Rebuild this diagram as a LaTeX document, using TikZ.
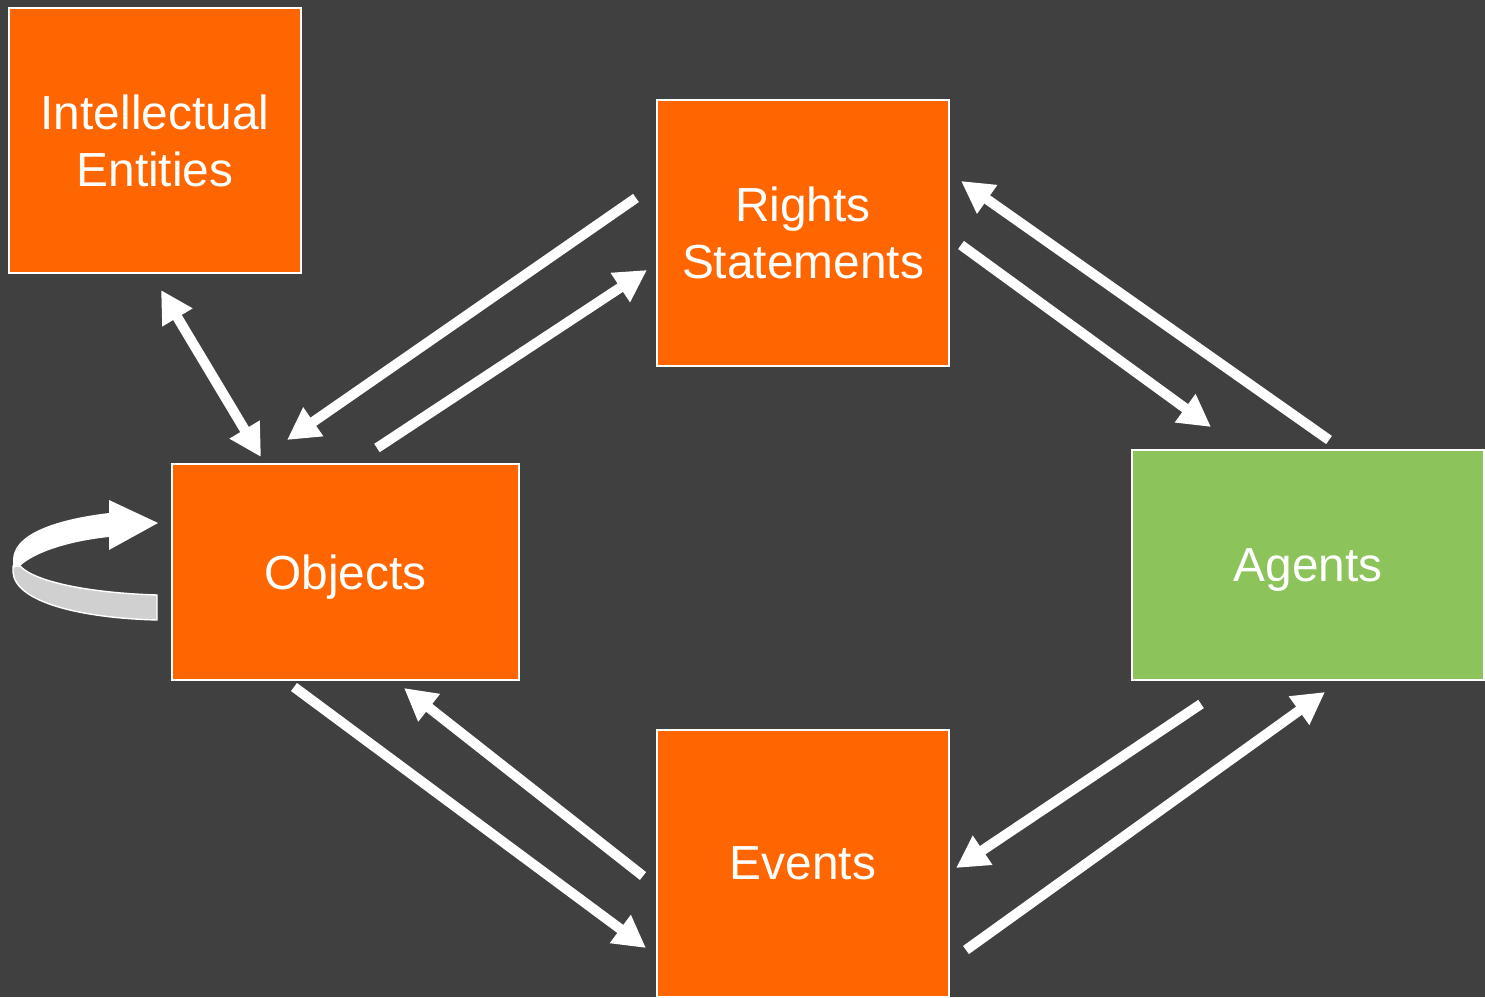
\documentclass[tikz,border=0pt]{standalone}
\usepackage{fontspec}
\setmainfont{Liberation Sans}
\usetikzlibrary{arrows.meta}

\definecolor{slate}{HTML}{404040}
\definecolor{pumpkin}{HTML}{FF6600}
\definecolor{leaf}{HTML}{8CC35A}
\definecolor{ribbon}{HTML}{D0D0D0}

\tikzset{
	entity/.style={draw=white, line width=0.6pt, fill=pumpkin, text=white,
		inner sep=0pt, align=center, text depth=0pt,
		font=\fontsize{13.6}{16.2}\selectfont},
	link/.style={draw=white, line width=2.85pt,
		-{Triangle[length=0.32cm, width=0.33cm]}},
	twolink/.style={link, {Triangle[length=0.32cm, width=0.33cm]}-{Triangle[length=0.32cm, width=0.33cm]}},
}

\begin{document}
\begin{tikzpicture}[x=0.01cm, y=-0.01cm]
	\fill[slate] (0,0) rectangle (1485,997);
	\useasboundingbox (0,0) rectangle (1485,997);

	\node[entity, minimum width=2.92cm, minimum height=2.65cm] (intellectual) at (155,140.5) {Intellectual\\Entities};
	\node[entity, minimum width=2.92cm, minimum height=2.66cm] (rights) at (803,233) {Rights\\Statements};
	\node[entity, minimum width=3.47cm, minimum height=2.16cm] (objects) at (345.5,572) {Objects};
	\node[entity, fill=leaf, minimum width=3.52cm, minimum height=2.30cm] (agents) at (1308,565) {Agents};
	\node[entity, minimum width=2.92cm, minimum height=2.67cm] (events) at (803,863.5) {Events};

	% rights <-> objects
	\coordinate (ro-a) at (636,198);
	\coordinate (ro-b) at (287,440);
	\coordinate (or-a) at (377,448);
	\coordinate (or-b) at (647,270);
	\draw[link] (ro-a) -- (ro-b);
	\draw[link] (or-a) -- (or-b);

	% rights <-> agents
	\coordinate (ra-a) at (961,245);
	\coordinate (ra-b) at (1211,427);
	\coordinate (ar-a) at (1329,440);
	\coordinate (ar-b) at (961,181);
	\draw[link] (ra-a) -- (ra-b);
	\draw[link] (ar-a) -- (ar-b);

	% agents <-> events
	\coordinate (ae-a) at (1201,704);
	\coordinate (ae-b) at (956,868);
	\coordinate (ea-a) at (966,950);
	\coordinate (ea-b) at (1325,692);
	\draw[link] (ae-a) -- (ae-b);
	\draw[link] (ea-a) -- (ea-b);

	% events <-> objects
	\coordinate (eo-a) at (643,876);
	\coordinate (eo-b) at (404,688);
	\coordinate (oe-a) at (294,687);
	\coordinate (oe-b) at (646,948);
	\draw[link] (eo-a) -- (eo-b);
	\draw[link] (oe-a) -- (oe-b);

	% intellectual entities <-> objects
	\coordinate (io-a) at (161,290);
	\coordinate (io-b) at (261,457);
	\draw[twolink] (io-a) -- (io-b);

	% loop on objects
	\filldraw[ribbon, draw=white, line width=0.4pt] (13,566) -- (13,572)
		.. controls (15,602) and (80,618) .. (157,620) -- (157,595)
		.. controls (90,593) and (35,582) .. (20,566) -- cycle;
	\fill[white] (109,513) .. controls (50,520) and (13,536) .. (13,560) -- (13,568)
		-- (20,566) .. controls (35,552) and (70,541) .. (109,537) -- cycle;
	\fill[white] (109,500) -- (158,523) -- (109,550) -- cycle;
\end{tikzpicture}
\end{document}
